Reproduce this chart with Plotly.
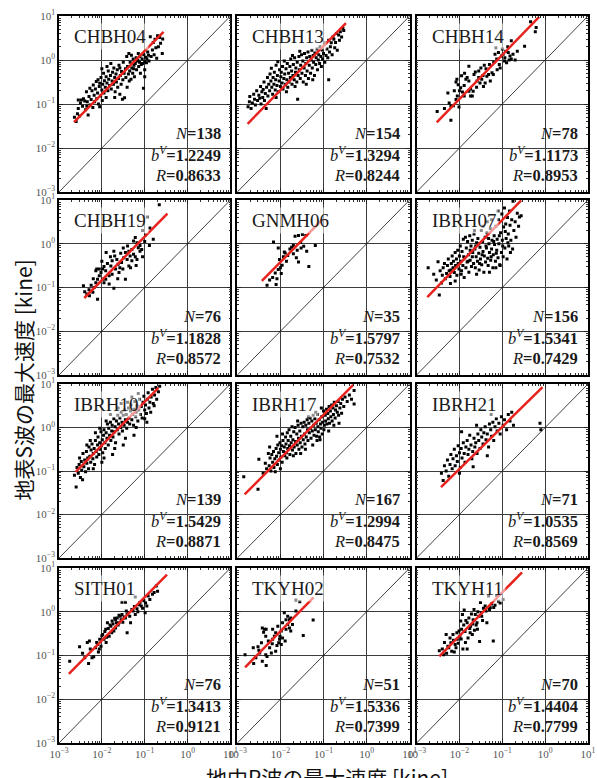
import plotly.graph_objects as go

# ---------------------------------------------------------------- data
STATIONS = ["CHBH04", "CHBH13", "CHBH14", "CHBH19", "GNMH06", "IBRH07",
            "IBRH10", "IBRH17", "IBRH21", "SITH01", "TKYH02", "TKYH11"]
N_COUNT = [138, 154, 78, 76, 35, 156, 139, 167, 71, 76, 51, 70]
B_V = ["1.2249", "1.3294", "1.1173", "1.1828", "1.5797", "1.5341",
       "1.5429", "1.2994", "1.0535", "1.3413", "1.5336", "1.4404"]
R_VAL = ["0.8633", "0.8244", "0.8953", "0.8572", "0.7532", "0.7429",
         "0.8871", "0.8475", "0.8569", "0.9121", "0.7399", "0.7799"]

# regression line end points, log10 [kine]
FIT_LX0 = [-2.65, -2.76, -2.53, -2.41, -2.43, -2.75, -2.61, -2.83, -2.43, -2.77, -2.82, -2.47]
FIT_LX1 = [-0.56, -0.48, -0.14, -0.47, -1.02, -0.56, -0.68, -0.31, -0.06, -0.48, -1.23, -0.54]
FIT_LY0 = [-1.41, -1.45, -1.42, -1.24, -0.85, -1.22, -1.02, -1.54, -1.37, -1.42, -1.27, -1.02]
FIT_LY1 = [0.64, 0.84, 0.98, 0.69, 0.56, 0.99, 0.91, 0.98, 0.93, 0.85, 0.33, 0.90]

# observed peak velocities (log10 P-wave in borehole, log10 S-wave at surface)
CHBH04_PTS = [(-2.64,-1.30),(-2.60,-1.40),(-2.57,-1.22),(-2.55,-1.10),(-2.52,-1.27),(-2.50,-0.98),(-2.55,-0.91),(-2.48,-0.91),(-2.45,-1.05),(-2.43,-0.88),(-2.40,-0.93),(-2.38,-1.13),(-2.36,-0.72),(-2.34,-0.95),(-2.32,-1.25),(-2.30,-0.83),(-2.28,-0.64),(-2.27,-1.02),(-2.25,-0.90),(-2.23,-0.70),(-2.21,-1.08),(-2.20,-0.57),(-2.18,-0.80),(-2.17,-0.95),(-2.15,-0.66),(-2.13,-0.49),(-2.12,-0.88),(-2.10,-0.75),(-2.09,-0.45),(-2.08,-1.00),(-2.06,-0.60),(-2.05,-0.53),(-2.05,-1.06),(-2.03,-0.82),(-2.02,-0.40),(-2.00,-0.68),(-1.99,-0.92),(-1.98,-0.55),(-1.96,-0.30),(-1.95,-0.75),(-1.94,-0.47),(-1.92,-0.62),(-1.90,-0.38),(-1.90,-0.85),(-1.88,-0.52),(-1.86,-0.70),(-1.85,-0.25),(-1.84,-0.44),(-1.82,-0.58),(-1.80,-0.35),(-1.79,-0.08),(-1.78,-0.66),(-1.76,-0.48),(-1.75,-0.28),(-1.73,-0.55),(-1.72,-0.18),(-1.70,-0.40),(-1.69,-0.72),(-1.67,-0.32),(-1.66,-0.50),(-1.64,-0.22),(-1.63,-0.62),(-1.61,-0.42),(-1.60,-0.12),(-1.58,-0.78),(-1.57,-0.35),(-1.55,-0.55),(-1.54,-0.26),(-1.52,-0.89),(-1.51,-0.45),(-1.50,-0.05),(-1.48,-0.30),(-1.47,-0.86),(-1.45,-0.20),(-1.44,-0.40),(-1.42,0.08),(-1.41,-0.62),(-1.40,-0.15),(-1.38,-0.32),(-1.37,0.15),(-1.35,-0.25),(-1.34,-0.05),(-1.32,-0.44),(-1.31,0.11),(-1.30,-0.18),(-1.28,-0.30),(-1.27,0.02),(-1.25,-0.12),(-1.24,-0.38),(-1.22,-0.08),(-1.20,0.05),(-1.19,-0.22),(-1.17,-0.02),(-1.16,0.00),(-1.14,-0.15),(-1.12,-0.05),(-1.11,0.08),(-1.10,-0.30),(-1.08,-0.10),(-1.06,0.02),(-1.05,-0.08),(-1.03,-0.64),(-1.02,0.12),(-1.00,-0.04),(-1.00,-0.38),(-1.00,-0.22),(-0.98,0.06),(-0.96,-0.06),(-0.95,0.03),(-0.93,0.18),(-0.91,0.11),(-0.90,-0.02),(-0.87,0.53),(-0.85,0.08),(-0.82,0.23),(-0.80,0.40),(-0.78,0.12),(-0.76,0.47),(-0.74,0.28),(-0.72,0.04),(-0.70,0.55),(-0.68,0.30),(-0.65,0.51),(-0.63,0.38),(-0.59,0.15),(-0.58,0.48),(-1.58,-0.18),(-1.36,-0.48),(-1.26,-0.20),(-1.88,-0.15),(-2.35,-1.05),(-2.00,-0.20),(-1.70,-0.85),(-1.15,0.15)]

CHBH13_PTS = [(-2.75,-1.06),(-2.72,-0.95),(-2.71,-0.83),(-2.68,-1.10),(-2.65,-0.98),(-2.62,-0.78),(-2.60,-0.89),(-2.58,-1.02),(-2.55,-0.70),(-2.53,-0.92),(-2.50,-0.80),(-2.48,-0.87),(-2.46,-0.60),(-2.45,-1.00),(-2.43,-0.72),(-2.41,-0.85),(-2.40,-0.67),(-2.38,-0.50),(-2.37,-0.92),(-2.35,-0.76),(-2.33,-1.10),(-2.32,-0.62),(-2.30,-0.40),(-2.29,-0.82),(-2.27,-0.55),(-2.25,-0.70),(-2.24,-0.32),(-2.22,-0.48),(-2.21,-0.19),(-2.20,-0.62),(-2.18,-0.78),(-2.17,-0.40),(-2.15,-0.55),(-2.14,-0.28),(-2.12,-0.68),(-2.11,-0.45),(-2.10,-0.12),(-2.08,-0.58),(-2.07,-0.35),(-2.06,-0.04),(-2.05,-0.72),(-2.03,-0.48),(-2.02,-0.22),(-2.00,-0.60),(-1.99,-0.38),(-1.98,-0.28),(-1.96,-0.52),(-1.95,-0.15),(-1.94,-0.66),(-1.92,-0.42),(-1.91,-0.02),(-1.90,-0.32),(-1.88,-0.55),(-1.87,-0.20),(-1.85,-0.45),(-1.84,-0.08),(-1.83,-0.62),(-1.81,-0.30),(-1.80,-0.50),(-1.78,-0.15),(-1.77,-0.40),(-1.76,0.02),(-1.74,-0.25),(-1.73,-0.55),(-1.71,-0.35),(-1.70,-0.10),(-1.68,-0.45),(-1.67,0.05),(-1.65,-0.28),(-1.64,-0.18),(-1.62,-0.50),(-1.61,-0.05),(-1.60,-0.89),(-1.59,-0.35),(-1.57,0.08),(-1.56,-0.22),(-1.54,-0.42),(-1.53,-0.12),(-1.51,0.12),(-1.50,-0.30),(-1.48,-0.02),(-1.47,-0.50),(-1.45,-0.18),(-1.44,0.15),(-1.42,-0.35),(-1.41,-0.08),(-1.39,0.05),(-1.38,-0.25),(-1.36,0.18),(-1.35,-0.42),(-1.33,-0.12),(-1.32,0.08),(-1.30,-0.30),(-1.29,0.00),(-1.27,0.22),(-1.26,-0.18),(-1.24,0.10),(-1.23,-0.05),(-1.21,-0.35),(-1.20,0.16),(-1.18,-0.10),(-1.17,0.05),(-1.15,0.25),(-1.14,-0.22),(-1.12,0.00),(-1.11,0.12),(-1.09,-0.08),(-1.08,0.30),(-1.06,0.08),(-1.05,-0.15),(-1.03,0.23),(-1.02,0.02),(-1.00,0.15),(-0.98,0.35),(-0.97,-0.05),(-0.95,0.39),(-0.94,0.10),(-0.92,0.25),(-0.90,0.05),(-0.88,-0.45),(-0.88,0.45),(-0.86,0.18),(-0.84,0.30),(-0.82,0.39),(-0.80,0.12),(-0.78,0.52),(-0.76,0.47),(-0.74,0.28),(-0.72,0.40),(-0.70,0.60),(-0.68,0.22),(-0.65,0.57),(-0.63,0.45),(-0.61,0.64),(-0.58,0.52),(-0.55,0.72),(-0.53,0.67),(-2.10,-0.85),(-1.86,-0.72),(-1.66,-0.60),(-1.40,-0.55),(-1.25,-0.45),(-1.55,0.20),(-1.72,0.10)]

CHBH14_PTS = [(-2.52,-1.17),(-2.20,-1.37),(-2.27,-0.75),(-2.24,-0.98),(-2.20,-1.05),(-2.14,-1.04),(-2.08,-0.90),(-2.05,-0.82),(-2.01,-1.07),(-2.06,-0.44),(-2.08,-0.50),(-2.03,-0.56),(-1.97,-0.63),(-1.93,-0.73),(-1.89,-0.58),(-1.85,-0.44),(-1.82,-0.40),(-1.78,-0.48),(-1.89,-0.82),(-1.78,-0.71),(-1.74,-0.66),(-1.70,-0.82),(-1.68,-0.71),(-1.74,-0.82),(-1.78,-0.14),(-1.66,-0.33),(-1.63,-0.27),(-1.55,-0.25),(-1.50,-0.18),(-1.59,-0.48),(-1.52,-0.52),(-1.48,-0.44),(-1.44,-0.60),(-1.40,-0.52),(-1.45,-0.35),(-1.36,-0.37),(-1.32,-0.33),(-1.24,-0.29),(-1.21,-0.33),(-1.28,-0.48),(-1.17,0.13),(-1.09,0.17),(-1.07,-0.10),(-1.05,-0.18),(-1.13,0.02),(-1.02,0.09),(-0.98,0.13),(-0.94,0.05),(-0.86,0.17),(-0.82,0.09),(-0.79,0.02),(-0.84,0.00),(-0.75,0.13),(-0.90,-0.06),(-0.79,0.44),(-0.48,0.31),(-0.34,0.87),(-0.21,0.74),(-0.23,0.64),(-2.35,-1.10),(-2.12,-0.70),(-1.95,-0.36),(-1.60,-0.62),(-1.55,-0.40),(-1.38,-0.20),(-1.30,-0.10),(-1.20,-0.05),(-1.12,-0.22),(-1.00,0.25),(-0.95,-0.02),(-0.88,0.30),(-0.70,0.00),(-0.65,0.20),(-0.92,0.20),(-1.15,0.28),(-1.88,-0.30),(-2.00,-0.70),(-1.42,-0.12)]

CHBH19_PTS = [(-2.43,-0.96),(-2.35,-1.15),(-2.29,-1.19),(-2.21,-1.11),(-2.10,-1.27),(-2.18,-1.00),(-2.14,-0.89),(-2.10,-0.81),(-2.06,-0.73),(-2.02,-0.66),(-1.98,-0.58),(-1.95,-0.52),(-1.91,-0.62),(-2.06,-0.58),(-2.14,-0.62),(-2.12,-0.58),(-1.98,-0.81),(-1.91,-0.81),(-1.83,-0.73),(-1.76,-0.70),(-1.72,-1.02),(-1.79,-0.51),(-1.76,-0.39),(-1.72,-0.17),(-1.65,-0.36),(-1.62,-0.47),(-1.58,-0.55),(-1.54,-0.43),(-1.51,-0.58),(-1.45,-0.81),(-1.41,-0.36),(-1.37,-0.51),(-1.34,-0.28),(-1.30,-0.39),(-1.26,-0.24),(-1.22,-0.30),(-1.18,-0.36),(-1.37,-0.17),(-1.45,-0.20),(-1.49,-0.32),(-1.30,-0.13),(-1.15,-0.09),(-1.11,-0.17),(-1.07,-0.13),(-1.22,0.14),(-1.26,0.06),(-1.18,0.02),(-1.11,-0.04),(-0.88,0.36),(-0.94,0.61),(-0.66,0.89),(-0.89,-0.04),(-1.33,-0.55),(-1.68,-0.58),(-1.60,-0.66),(-1.83,-0.92),(-1.95,-0.89),(-2.25,-0.95),(-2.00,-0.40),(-1.87,-0.45),(-1.70,-0.28),(-1.50,-0.10),(-1.40,-0.05),(-1.00,0.05),(-0.98,0.20),(-1.05,0.30),(-2.30,-1.05),(-2.20,-0.80),(-1.80,-0.30),(-1.56,-0.22),(-1.20,-0.50),(-1.05,-0.30),(-0.80,0.10),(-2.40,-1.10),(-1.63,-0.80),(-1.90,-0.20)]

GNMH06_PTS = [(-2.31,-0.95),(-2.25,-0.83),(-2.18,-0.77),(-2.16,0.04),(-2.12,-0.67),(-2.10,-0.93),(-2.05,-0.10),(-2.05,-0.59),(-2.02,-0.36),(-2.00,-0.55),(-1.98,-0.68),(-1.96,-0.49),(-1.93,-0.30),(-1.91,-0.19),(-1.89,-0.21),(-1.83,-0.27),(-1.78,-0.12),(-1.74,-0.08),(-1.70,-0.04),(-1.70,-0.23),(-1.66,0.17),(-1.63,-0.32),(-1.61,-0.15),(-1.58,0.19),(-1.58,-0.42),(-1.53,0.03),(-1.49,0.21),(-1.46,-0.06),(-1.41,0.19),(-1.39,-0.17),(-1.34,-0.52),(-1.19,-0.04),(-2.08,-0.80),(-1.86,-0.40),(-1.52,-0.10)]

IBRH07_PTS = [(-2.73,-0.55),(-2.60,-0.70),(-2.54,-0.83),(-2.50,-0.41),(-2.47,-1.17),(-2.45,-0.62),(-2.42,-0.90),(-2.40,-0.72),(-2.38,-0.55),(-2.35,-0.45),(-2.33,-0.80),(-2.30,-0.68),(-2.28,-0.50),(-2.26,-0.35),(-2.24,-0.62),(-2.22,-0.75),(-2.21,-0.91),(-2.19,-0.45),(-2.17,-0.28),(-2.15,-0.55),(-2.14,-0.40),(-2.12,-0.66),(-2.10,-0.20),(-2.09,-0.50),(-2.07,-0.35),(-2.06,-0.72),(-2.04,-0.15),(-2.03,-0.45),(-2.01,-0.58),(-2.00,-0.28),(-1.98,-0.05),(-1.97,-0.40),(-1.95,-0.62),(-1.94,-0.18),(-1.92,-0.50),(-1.91,0.10),(-1.89,-0.77),(-1.88,-0.32),(-1.86,0.15),(-1.85,-0.55),(-1.84,-0.10),(-1.82,-0.42),(-1.81,0.05),(-1.79,-0.25),(-1.78,-0.65),(-1.76,0.18),(-1.75,-0.38),(-1.73,-0.05),(-1.72,-0.52),(-1.70,0.08),(-1.69,-0.20),(-1.67,-0.45),(-1.66,0.22),(-1.64,-0.12),(-1.63,-0.55),(-1.61,-0.30),(-1.60,0.02),(-1.58,-0.40),(-1.57,0.12),(-1.55,-0.22),(-1.54,-0.60),(-1.52,-0.08),(-1.51,-0.35),(-1.49,0.30),(-1.48,-0.48),(-1.46,0.05),(-1.45,-0.18),(-1.43,-0.65),(-1.42,-0.28),(-1.40,0.15),(-1.39,-0.42),(-1.37,-0.10),(-1.36,0.25),(-1.34,-0.33),(-1.33,-0.50),(-1.31,0.00),(-1.30,-0.20),(-1.28,0.35),(-1.27,-0.38),(-1.25,-0.12),(-1.24,0.08),(-1.22,-0.55),(-1.21,-0.25),(-1.19,0.18),(-1.18,-0.02),(-1.16,-0.40),(-1.15,0.40),(-1.13,-0.15),(-1.12,0.10),(-1.10,-0.32),(-1.09,0.55),(-1.08,0.00),(-1.06,-0.48),(-1.05,-0.50),(-1.04,0.25),(-1.02,-0.20),(-1.01,0.68),(-1.00,0.08),(-0.98,-0.30),(-0.97,0.38),(-0.95,0.82),(-0.94,-0.10),(-0.92,0.45),(-0.91,0.12),(-0.89,-0.35),(-0.88,0.60),(-0.86,0.22),(-0.85,-0.05),(-0.83,0.75),(-0.82,0.42),(-0.80,0.08),(-0.78,0.55),(-0.76,-0.12),(-0.75,0.97),(-0.73,0.30),(-0.70,0.50),(-0.68,0.15),(-0.65,0.70),(-0.62,0.40),(-0.60,0.61),(-0.56,0.64),(-2.20,-0.60),(-2.00,-0.45),(-1.90,-0.30),(-1.80,-0.40),(-1.70,-0.30),(-1.62,-0.05),(-1.53,-0.45),(-1.47,-0.25),(-1.38,-0.05),(-1.32,0.12),(-1.26,-0.30),(-1.20,0.05),(-1.14,-0.22),(-1.07,0.18),(-0.99,-0.05),(-0.93,0.28),(-0.87,0.02),(-0.81,-0.20),(-1.55,0.00),(-1.75,-0.15),(-1.65,0.30),(-1.45,0.40),(-1.35,0.50),(-1.25,0.55),(-1.10,0.75),(-2.10,-0.85),(-1.96,-0.70),(-1.60,-0.70),(-1.30,-0.65),(-1.15,-0.55)]

IBRH10_PTS = [(-2.64,-1.10),(-2.60,-1.37),(-2.58,-0.92),(-2.55,-1.05),(-2.53,-0.85),(-2.50,-1.15),(-2.48,-0.78),(-2.47,-0.98),(-2.44,-0.60),(-2.42,-0.90),(-2.40,-0.75),(-2.38,-1.02),(-2.36,-0.55),(-2.35,-0.82),(-2.33,-0.70),(-2.31,-0.95),(-2.30,-0.45),(-2.28,-0.66),(-2.26,-0.80),(-2.25,-0.52),(-2.23,-0.38),(-2.21,-0.72),(-2.20,-0.60),(-2.18,-0.48),(-2.17,-0.85),(-2.15,-0.30),(-2.13,-0.55),(-2.12,-0.68),(-2.10,-0.40),(-2.09,-0.22),(-2.07,-0.62),(-2.05,-0.35),(-2.04,-0.50),(-2.02,-0.10),(-2.01,-0.42),(-1.99,-0.28),(-1.98,-0.58),(-1.96,-0.18),(-1.95,-0.05),(-1.93,-0.35),(-1.92,-0.48),(-1.90,-0.12),(-1.88,-0.25),(-1.87,0.08),(-1.85,-0.40),(-1.84,-0.02),(-1.82,-0.18),(-1.80,0.12),(-1.79,-0.30),(-1.77,-0.08),(-1.76,0.05),(-1.74,-0.22),(-1.72,0.20),(-1.71,-0.10),(-1.69,0.02),(-1.68,-0.35),(-1.66,0.15),(-1.64,-0.05),(-1.63,0.28),(-1.61,0.08),(-1.60,-0.15),(-1.58,0.22),(-1.56,0.00),(-1.55,0.35),(-1.53,0.12),(-1.52,-0.08),(-1.50,0.28),(-1.48,0.05),(-1.47,0.40),(-1.45,0.18),(-1.43,0.30),(-1.42,-0.02),(-1.40,0.12),(-1.38,0.45),(-1.37,0.22),(-1.35,0.08),(-1.33,0.38),(-1.32,0.52),(-1.30,0.18),(-1.28,0.30),(-1.26,0.05),(-1.25,0.42),(-1.23,0.60),(-1.21,0.25),(-1.20,0.35),(-1.18,0.50),(-1.16,0.15),(-1.14,0.40),(-1.12,0.65),(-1.10,0.30),(-1.08,0.48),(-1.06,0.22),(-1.04,0.58),(-1.02,0.72),(-1.00,0.40),(-0.98,0.52),(-0.96,0.32),(-0.94,0.65),(-0.92,0.80),(-0.90,0.45),(-0.88,0.58),(-0.85,0.70),(-0.82,0.88),(-0.80,0.55),(-0.77,0.75),(-0.74,0.92),(-0.72,0.65),(-0.68,0.82),(-0.65,0.95),(-2.45,-1.20),(-2.20,-0.95),(-1.95,-0.70),(-1.70,-0.48),(-1.45,-0.25),(-1.20,0.00),(-0.95,0.12),(-2.35,-0.40),(-2.05,-0.02),(-1.80,0.30),(-1.55,0.55),(-1.30,0.70),(-2.52,-0.70),(-2.27,-0.30),(-2.00,-0.80),(-1.75,-0.62),(-1.50,-0.40),(-1.25,-0.18),(-1.00,0.20),(-0.86,0.35),(-1.62,0.45),(-1.40,0.58),(-1.15,0.78),(-1.90,0.15),(-2.15,-0.12),(-0.78,0.50)]

IBRH17_PTS = [(-2.85,-1.13),(-2.52,-1.42),(-2.50,-0.73),(-2.40,-1.05),(-2.35,-0.82),(-2.32,-0.95),(-2.28,-0.60),(-2.26,-0.88),(-2.24,-0.70),(-2.22,-1.00),(-2.20,-0.62),(-2.18,-0.80),(-2.16,-0.55),(-2.15,-0.92),(-2.13,-0.72),(-2.12,-1.02),(-2.10,-0.48),(-2.09,-0.66),(-2.07,-0.85),(-2.06,-0.40),(-2.04,-0.58),(-2.03,-0.75),(-2.01,-0.35),(-2.00,-0.50),(-1.99,-0.68),(-1.97,-0.42),(-1.96,-0.80),(-1.94,-0.30),(-1.93,-0.55),(-1.91,-0.45),(-1.90,-0.65),(-1.88,-0.22),(-1.87,-0.38),(-1.86,-0.58),(-1.84,-0.12),(-1.83,-0.48),(-1.82,-0.30),(-1.80,-0.05),(-1.79,-0.42),(-1.78,-0.62),(-1.76,-0.20),(-1.75,-0.35),(-1.73,0.02),(-1.72,-0.52),(-1.71,-0.28),(-1.69,-0.10),(-1.68,-0.45),(-1.66,0.00),(-1.65,-0.32),(-1.64,-0.60),(-1.62,-0.15),(-1.61,-0.40),(-1.59,0.05),(-1.58,-0.25),(-1.57,-0.50),(-1.55,-0.08),(-1.54,-0.35),(-1.52,0.10),(-1.51,-0.20),(-1.50,-0.45),(-1.48,0.02),(-1.47,-0.28),(-1.45,0.12),(-1.44,-0.15),(-1.43,-0.38),(-1.41,0.05),(-1.40,-0.22),(-1.38,0.18),(-1.37,-0.05),(-1.36,-0.30),(-1.34,0.10),(-1.33,-0.12),(-1.31,0.22),(-1.30,-0.02),(-1.29,-0.25),(-1.27,0.15),(-1.26,-0.08),(-1.24,0.28),(-1.23,0.05),(-1.22,-0.18),(-1.20,0.20),(-1.19,-0.05),(-1.17,0.10),(-1.16,-0.20),(-1.14,0.30),(-1.13,0.02),(-1.12,-0.10),(-1.10,0.18),(-1.09,-0.22),(-1.08,-0.28),(-1.07,0.08),(-1.06,-0.02),(-1.04,0.25),(-1.03,-0.15),(-1.02,0.12),(-1.00,0.38),(-0.99,-0.05),(-0.98,0.05),(-0.96,0.28),(-0.95,0.15),(-0.93,0.42),(-0.92,0.08),(-0.90,0.32),(-0.89,0.20),(-0.87,0.48),(-0.86,0.10),(-0.84,0.38),(-0.83,0.25),(-0.81,0.52),(-0.80,0.15),(-0.78,0.45),(-0.77,0.30),(-0.75,0.58),(-0.73,0.22),(-0.72,0.40),(-0.70,0.50),(-0.68,0.35),(-0.66,0.60),(-0.65,0.28),(-0.62,0.45),(-0.60,0.55),(-0.58,0.33),(-0.56,0.65),(-0.53,0.48),(-0.50,0.70),(-0.45,0.60),(-0.40,0.75),(-0.35,0.65),(-0.29,0.85),(-0.29,0.54),(-1.85,-0.70),(-1.70,-0.65),(-1.53,-0.60),(-1.42,-0.50),(-1.25,-0.40),(-1.15,-0.30),(-1.95,-0.15),(-1.60,0.15),(-1.35,0.25),(-1.18,0.35),(-1.05,0.45),(-0.88,-0.08),(-0.76,0.05),(-0.64,0.10),(-2.00,-0.95),(-2.25,-0.45),(-2.08,-0.20)]

IBRH21_PTS = [(-2.42,-1.05),(-2.38,-1.22),(-2.35,-0.88),(-2.31,-1.00),(-2.28,-0.75),(-2.25,-1.12),(-2.22,-0.85),(-2.20,-0.62),(-2.17,-0.95),(-2.15,-0.72),(-2.12,-0.50),(-2.10,-0.88),(-2.07,-0.65),(-2.05,-0.78),(-2.03,-0.42),(-2.00,-0.58),(-1.98,-0.92),(-1.96,-0.48),(-1.94,-0.70),(-1.91,-0.35),(-1.89,-0.60),(-1.87,-0.80),(-1.85,-0.45),(-1.82,-0.30),(-1.80,-0.62),(-1.78,-0.50),(-1.76,-0.18),(-1.73,-0.40),(-1.71,-0.72),(-1.69,-0.55),(-1.66,-0.25),(-1.64,-0.45),(-1.62,-0.35),(-1.59,-0.60),(-1.57,-0.15),(-1.55,-0.30),(-1.52,-0.48),(-1.50,-0.05),(-1.48,-0.22),(-1.45,-0.38),(-1.43,-0.12),(-1.40,0.02),(-1.38,-0.28),(-1.35,-0.15),(-1.32,-0.45),(-1.30,0.08),(-1.27,-0.05),(-1.25,-0.20),(-1.22,0.12),(-1.20,-0.30),(-1.17,0.02),(-1.14,0.20),(-1.12,-0.08),(-1.08,0.10),(-1.05,-0.15),(-1.02,0.25),(-0.98,0.05),(-0.95,0.18),(-0.90,-0.05),(-0.86,0.30),(-0.82,0.15),(-0.78,0.35),(-0.74,0.05),(-0.12,0.10),(-0.10,-0.05),(-1.95,-0.10),(-1.60,0.05),(-2.00,-1.05),(-1.68,-0.90),(-1.35,-0.65),(-1.26,0.30)]

SITH01_PTS = [(-2.75,-1.13),(-2.52,-0.80),(-2.45,-0.95),(-2.40,-1.05),(-2.34,-0.70),(-2.31,-1.18),(-2.29,-0.67),(-2.27,-0.85),(-2.23,-1.05),(-2.19,-1.03),(-2.15,-0.82),(-2.12,-0.70),(-2.10,-0.75),(-2.08,-0.92),(-2.06,-0.85),(-2.05,-0.63),(-2.02,-0.79),(-2.00,-0.55),(-1.98,-0.52),(-1.95,-0.63),(-1.93,-0.45),(-1.91,-0.40),(-1.89,-0.58),(-1.87,-0.25),(-1.85,-0.38),(-1.83,-0.56),(-1.81,-0.30),(-1.79,-0.33),(-1.77,-0.48),(-1.76,-0.21),(-1.74,-0.28),(-1.72,-0.44),(-1.70,-0.15),(-1.68,-0.18),(-1.68,-0.37),(-1.66,-0.25),(-1.64,-0.14),(-1.62,-0.30),(-1.60,-0.25),(-1.60,-0.08),(-1.57,-0.10),(-1.55,-0.18),(-1.53,-0.06),(-1.53,0.22),(-1.51,-0.24),(-1.48,-0.12),(-1.45,-0.14),(-1.45,0.22),(-1.43,0.02),(-1.41,-0.48),(-1.41,-0.06),(-1.38,-0.02),(-1.35,-0.10),(-1.33,-0.25),(-1.30,0.05),(-1.27,0.02),(-1.24,0.12),(-1.22,-0.06),(-1.22,0.34),(-1.18,0.07),(-1.16,0.00),(-1.13,0.16),(-1.11,0.21),(-1.08,0.13),(-1.05,0.08),(-1.02,0.25),(-0.99,-0.02),(-0.98,0.20),(-0.95,0.13),(-0.92,0.36),(-0.88,0.28),(-0.82,0.40),(-0.78,0.44),(-0.73,0.59),(-0.70,0.47),(-1.90,-0.70)]

TKYH02_PTS = [(-2.82,-0.98),(-2.63,-0.82),(-2.62,-1.18),(-2.52,-0.80),(-2.50,-0.88),(-2.42,-0.37),(-2.37,-0.40),(-2.33,-0.40),(-2.39,-0.47),(-2.34,-0.56),(-2.42,-1.13),(-2.33,-1.23),(-2.34,-0.98),(-2.31,-1.02),(-2.18,-0.63),(-2.19,-0.73),(-2.11,-0.90),(-2.08,-0.77),(-2.04,-0.71),(-2.02,-0.63),(-2.01,-0.56),(-1.98,-0.44),(-1.95,-0.25),(-1.91,-0.02),(-1.87,-0.18),(-1.83,-0.29),(-1.79,-0.37),(-1.76,-0.44),(-1.89,-0.67),(-1.47,-0.54),(-1.24,-0.19),(-1.64,0.02),(-1.64,0.27),(-1.55,0.23),(-1.83,-0.10),(-1.79,-0.18),(-2.25,-0.82),(-2.48,-0.94),(-2.57,-1.05),(-2.14,-0.56),(-2.11,-0.48),(-1.95,-0.60),(-2.06,-0.33),(-2.18,-0.40),(-1.72,-0.29),(-1.87,-0.40),(-1.98,-0.75),(-2.21,-0.94),(-2.28,-0.67),(-2.44,-0.71),(-1.76,-0.14)]

TKYH11_PTS = [(-2.47,-0.89),(-2.40,-0.85),(-2.35,-0.70),(-2.31,-0.52),(-2.30,-0.95),(-2.27,-0.79),(-2.22,-0.60),(-2.20,-0.71),(-2.18,-0.90),(-2.15,-0.52),(-2.12,-0.92),(-2.10,-0.75),(-2.08,-0.82),(-2.05,-0.63),(-2.03,-0.72),(-2.01,-0.44),(-1.99,-0.56),(-1.97,-0.21),(-1.95,-0.40),(-1.93,-0.06),(-1.92,-0.85),(-1.90,-0.30),(-1.89,0.04),(-1.87,-0.45),(-1.85,-0.20),(-1.82,-0.25),(-1.82,-0.85),(-1.80,-0.60),(-1.78,-0.14),(-1.76,-0.38),(-1.74,-0.33),(-1.72,-0.05),(-1.70,-0.52),(-1.68,-0.18),(-1.66,0.05),(-1.65,-0.42),(-1.63,-0.06),(-1.61,-0.30),(-1.59,-0.25),(-1.57,0.00),(-1.55,-0.10),(-1.53,-0.68),(-1.51,0.21),(-1.49,-0.02),(-1.46,-0.20),(-1.44,0.08),(-1.40,0.13),(-1.38,0.02),(-1.36,-0.25),(-1.32,0.36),(-1.30,0.05),(-1.28,0.09),(-1.25,0.18),(-1.21,-0.67),(-1.20,0.10),(-1.17,0.15),(-1.13,0.37),(-1.09,0.24),(-1.05,0.20),(-0.98,0.28),(-2.25,-0.82),(-2.14,-0.65),(-2.06,-0.48),(-1.96,-0.62),(-1.86,-0.70),(-1.75,-0.48),(-1.69,-0.28),(-1.58,-0.40),(-1.48,-0.10),(-2.37,-0.98)]

POINTS = [CHBH04_PTS, CHBH13_PTS, CHBH14_PTS, CHBH19_PTS, GNMH06_PTS, IBRH07_PTS,
          IBRH10_PTS, IBRH17_PTS, IBRH21_PTS, SITH01_PTS, TKYH02_PTS, TKYH11_PTS]

TICK_VALS = [1e-3, 1e-2, 1e-1, 1e0, 1e1]
TICK_TEXT = ["10<sup>\u22123</sup>", "10<sup>\u22122</sup>", "10<sup>\u22121</sup>",
             "10<sup>0</sup>", "10<sup>1</sup>"]
MINOR_VALS = [m * 10.0 ** e for e in range(-3, 1) for m in range(2, 10)]

X_TITLE = "地中P波の最大速度 [kine]"
Y_TITLE = "地表S波の最大速度 [kine]"

# ---------------------------------------------------------------- layout
W, H = 597, 778
ML, MR, MT, MB = 59, 1, 16, 35
COL_PX = [(59, 233), (240, 415), (422, 596)]
ROW_PX = [(16, 192), (200, 375), (384, 558), (568, 743)]
PW, PH = W - ML - MR, H - MT - MB


def xdom(c):
    a, b = COL_PX[c]
    return [(a - ML) / PW, (b - ML) / PW]


def ydom(r):
    a, b = ROW_PX[r]
    return [1 - (b - MT) / PH, 1 - (a - MT) / PH]


SERIF = "Liberation Serif"
CJK = "Noto Sans CJK JP"

fig = go.Figure()
layout = dict(width=W, height=H, margin=dict(l=ML, r=MR, t=MT, b=MB),
              paper_bgcolor="white", plot_bgcolor="white", showlegend=False)
annotations = []

for i, name in enumerate(STATIONS):
    r, c = divmod(i, 3)
    sfx = "" if i == 0 else str(i + 1)
    xa, ya = "x" + sfx, "y" + sfx

    axis_common = dict(
        type="log", range=[-3, 1], showline=True, linecolor="black", linewidth=1.5,
        mirror="ticks", ticks="inside", ticklen=4, tickcolor="#222",
        tickmode="array", tickvals=TICK_VALS, ticktext=TICK_TEXT,
        showgrid=True, gridcolor="#3c3c3c", gridwidth=1, zeroline=False,
        tickfont=dict(family=SERIF, size=11, color="#555"),
        minor=dict(tickmode="array", tickvals=MINOR_VALS, ticks="inside",
                   ticklen=2, tickcolor="#333", showgrid=False),
        fixedrange=True,
    )
    layout["xaxis" + sfx] = dict(axis_common, domain=xdom(c), anchor=ya,
                                 showticklabels=(r == 3))
    layout["yaxis" + sfx] = dict(axis_common, domain=ydom(r), anchor=xa,
                                 showticklabels=(c == 0))

    # 1:1 reference line
    fig.add_trace(go.Scatter(x=[TICK_VALS[0], TICK_VALS[-1]], y=[TICK_VALS[0], TICK_VALS[-1]],
                             mode="lines", line=dict(color="#111", width=0.8),
                             xaxis=xa, yaxis=ya, hoverinfo="skip"))
    # observations
    lx = [p[0] for p in POINTS[i]]
    ly = [p[1] for p in POINTS[i]]
    fig.add_trace(go.Scatter(x=[10 ** v for v in lx], y=[10 ** v for v in ly],
                             mode="markers",
                             marker=dict(symbol="square", size=3, color="black",
                                         line=dict(width=0)),
                             xaxis=xa, yaxis=ya))
    # regression line
    fig.add_trace(go.Scatter(x=[10 ** FIT_LX0[i], 10 ** FIT_LX1[i]],
                             y=[10 ** FIT_LY0[i], 10 ** FIT_LY1[i]],
                             mode="lines", line=dict(color="#e8231f", width=2.5),
                             xaxis=xa, yaxis=ya))

    xd, yd = xa + " domain", ya + " domain"
    annotations.append(dict(text=name, xref=xd, yref=yd, x=0.07, y=0.885,
                            xanchor="left", yanchor="middle", showarrow=False,
                            font=dict(family=SERIF, size=19, color="#1a1a1a"),
                            bgcolor="rgba(255,255,255,0.55)", borderpad=2))
    stats = [f"<i>N</i><b>={N_COUNT[i]}</b>",
             f"<i>b</i><sup><i>V</i></sup><b>={B_V[i]}</b>",
             f"<i>R</i><b>={R_VAL[i]}</b>"]
    for k, (txt, yy) in enumerate(zip(stats, [0.335, 0.215, 0.095])):
        annotations.append(dict(text=txt, xref=xd, yref=yd, x=0.955, y=yy,
                                xanchor="right", yanchor="middle", showarrow=False,
                                font=dict(family=SERIF, size=16.5, color="#1a1a1a")))

# shared axis titles
annotations.append(dict(text=X_TITLE, xref="paper", yref="paper",
                        x=(331 - ML) / PW, y=-(760 - MT - PH) / PH,
                        xanchor="center", yanchor="top", showarrow=False,
                        font=dict(family=CJK, size=21, color="#111")))
annotations.append(dict(text=Y_TITLE, xref="paper", yref="paper",
                        x=(22 - ML) / PW, y=1 - (380 - MT) / PH, textangle=-90,
                        xanchor="center", yanchor="middle", showarrow=False,
                        font=dict(family=CJK, size=21, color="#111")))

layout["annotations"] = annotations
fig.update_layout(**layout)
fig.write_html("out.html")
